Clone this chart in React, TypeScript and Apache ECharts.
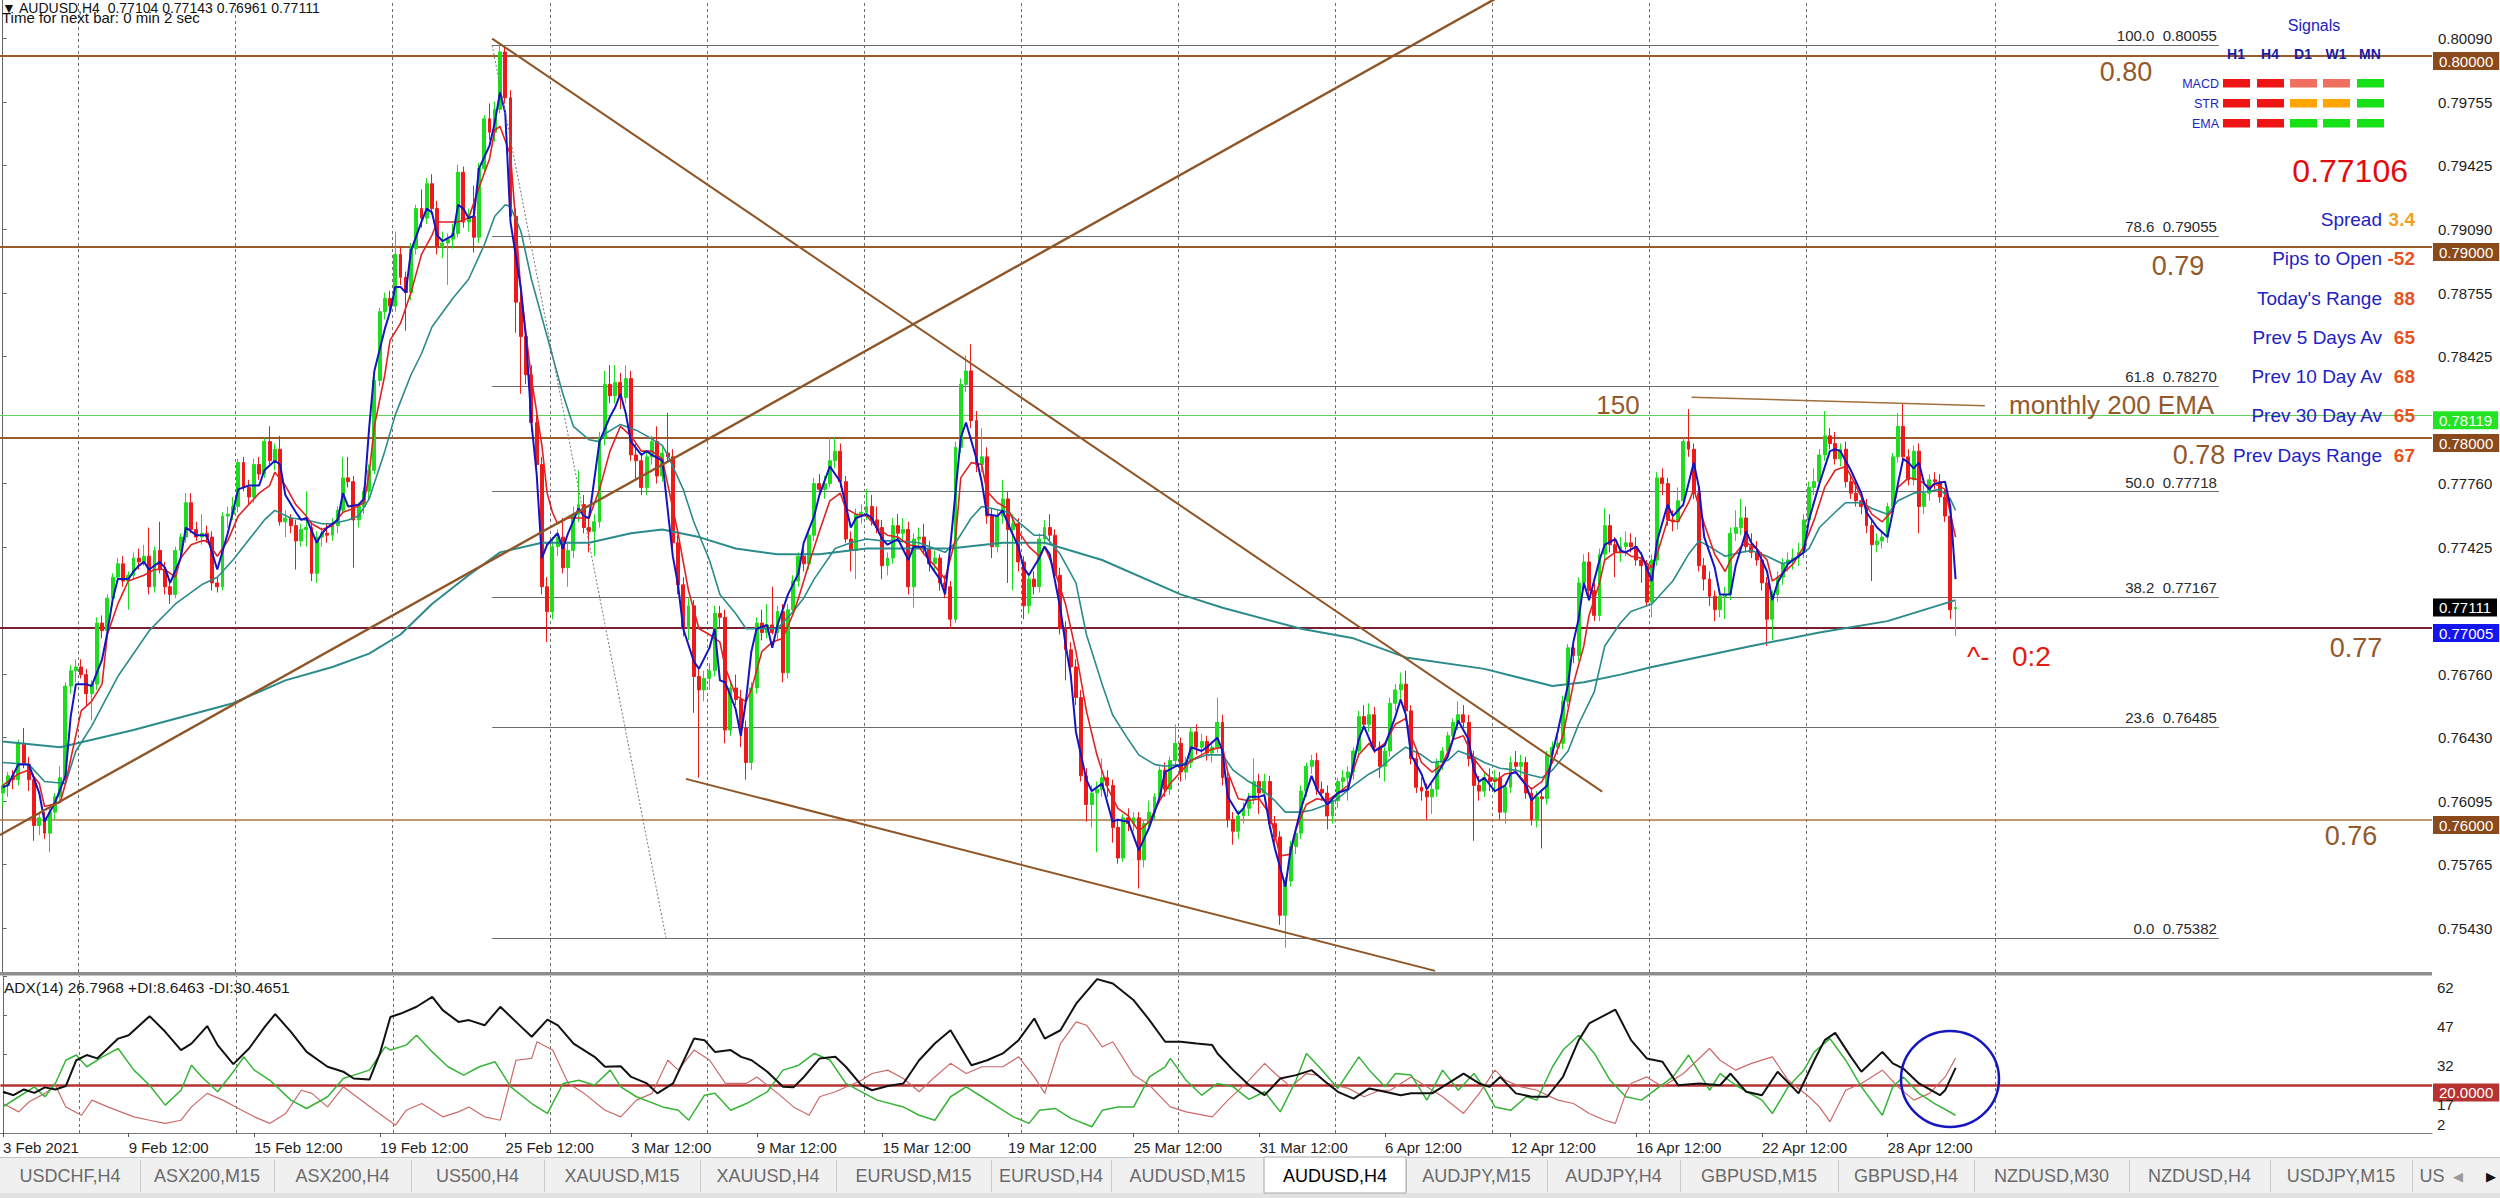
import React, { useEffect, useRef } from "react";
import * as echarts from "echarts";

const FONT = '"Liberation Sans", Arial, sans-serif';

// ---------------- DATA ----------------
// H4 candles, [open, high, low, close] in 1/10000 of a price unit (pips)
const BARS_FEB_A = [
  [7614,7620,7607,7618],[7618,7625,7612,7623],[7623,7626,7616,7621],[7621,7642,7618,7640],[7640,7648,7627,7629],
  [7629,7633,7615,7621],[7621,7624,7589,7597],[7597,7603,7592,7601],[7601,7604,7590,7593],[7593,7606,7583,7604],
  [7604,7614,7600,7612],[7612,7628,7609,7622],[7622,7672,7620,7670],[7670,7681,7666,7678],[7678,7684,7672,7680],
  [7680,7684,7674,7676],[7676,7679,7660,7666],[7666,7673,7652,7671],[7671,7706,7668,7703],[7703,7707,7695,7699],
  [7699,7718,7696,7716],[7716,7729,7712,7727],[7727,7737,7724,7734],[7734,7738,7722,7725],[7725,7730,7710,7728],
  [7728,7740,7726,7737],[7737,7742,7731,7735],[7735,7744,7733,7738],[7738,7753,7718,7722],[7722,7743,7719,7741],
  [7741,7756,7729,7731],[7731,7735,7718,7722],[7722,7725,7713,7718],[7718,7743,7716,7741],[7741,7750,7738,7748],
  [7748,7771,7745,7766],[7766,7771,7750,7752],[7752,7756,7746,7748],[7748,7760,7744,7750],[7750,7754,7745,7748],
  [7748,7751,7720,7724],[7724,7727,7719,7722],[7722,7761,7720,7759],[7759,7764,7753,7760],[7760,7769,7757,7764],
  [7764,7789,7761,7787],[7787,7790,7772,7774],[7774,7778,7765,7769],[7769,7789,7766,7786],[7786,7790,7778,7781],
  [7781,7800,7779,7798],[7798,7806,7786,7788],[7788,7797,7783,7794],[7794,7801,7754,7756],[7756,7762,7748,7758],
  [7758,7760,7750,7754],[7754,7757,7731,7746],[7746,7755,7743,7752],[7752,7772,7743,7753],[7753,7756,7725,7729],
];
const BARS_FEB_B = [
  [7729,7751,7724,7748],[7748,7753,7743,7750],[7750,7755,7745,7749],[7749,7758,7746,7754],[7754,7764,7750,7762],
  [7762,7790,7760,7779],[7779,7790,7774,7777],[7777,7780,7732,7757],[7757,7766,7753,7764],[7764,7774,7760,7772],
  [7772,7786,7768,7783],[7783,7832,7781,7830],[7830,7868,7827,7866],[7866,7876,7862,7873],[7873,7877,7866,7869],
  [7869,7908,7866,7896],[7896,7900,7880,7884],[7884,7887,7856,7876],[7876,7902,7872,7899],[7899,7922,7896,7920],
  [7920,7930,7910,7915],[7915,7936,7912,7933],[7933,7938,7917,7920],[7920,7924,7896,7900],[7900,7908,7894,7902],
  [7902,7907,7880,7904],[7904,7912,7899,7907],[7907,7943,7905,7939],[7939,7942,7910,7913],[7913,7920,7908,7916],
  [7916,7932,7897,7905],[7905,7944,7902,7941],[7941,7969,7938,7967],[7967,7975,7956,7960],[7960,7976,7955,7972],
  [7972,8006,7970,8002],[8002,8005,7975,7978],[7978,7982,7912,7916],[7916,7920,7855,7871],[7871,7876,7823,7853],
  [7853,7858,7828,7833],[7833,7838,7803,7808],[7808,7812,7780,7786],[7786,7790,7718,7722],[7722,7727,7693,7709],
  [7709,7748,7705,7743],[7743,7752,7738,7748],[7748,7758,7729,7732],[7732,7745,7722,7741],[7741,7764,7737,7760],
  [7760,7783,7756,7765],[7765,7770,7750,7753],[7753,7758,7740,7751],[7751,7760,7738,7756],[7756,7803,7753,7800],
  [7800,7835,7796,7828],[7828,7838,7818,7822],[7822,7838,7818,7829],[7829,7834,7815,7821],[7821,7838,7818,7831],
];
const BARS_MAR_A = [
  [7831,7835,7788,7791],[7791,7797,7778,7788],[7788,7792,7770,7774],[7774,7793,7770,7790],[7790,7801,7786,7798],
  [7798,7806,7776,7780],[7780,7795,7777,7792],[7792,7813,7787,7790],[7790,7794,7740,7745],[7745,7749,7718,7723],
  [7723,7727,7696,7700],[7700,7716,7694,7712],[7712,7715,7656,7675],[7675,7680,7622,7668],[7668,7678,7662,7674],
  [7674,7682,7668,7678],[7678,7712,7675,7708],[7708,7712,7700,7706],[7706,7710,7640,7647],[7647,7672,7644,7669],
  [7669,7676,7660,7663],[7663,7668,7638,7648],[7648,7652,7621,7630],[7630,7672,7626,7669],[7669,7706,7666,7703],
  [7703,7710,7694,7698],[7698,7713,7695,7702],[7702,7722,7697,7698],[7698,7712,7694,7709],[7709,7713,7672,7677],
  [7677,7713,7674,7710],[7710,7728,7707,7725],[7725,7740,7722,7738],[7738,7742,7730,7734],[7734,7751,7731,7749],
  [7749,7779,7746,7776],[7776,7781,7770,7773],[7773,7780,7768,7776],[7776,7800,7774,7788],[7788,7800,7784,7793],
  [7793,7797,7774,7777],[7777,7780,7745,7747],[7747,7751,7730,7741],[7741,7763,7726,7760],[7760,7765,7755,7761],
  [7761,7773,7757,7764],[7764,7770,7754,7757],[7757,7764,7750,7753],[7753,7757,7726,7733],[7733,7740,7728,7737],
  [7737,7758,7734,7754],[7754,7760,7746,7750],[7750,7758,7745,7752],[7752,7756,7718,7722],[7722,7750,7711,7747],
  [7747,7753,7742,7748],[7748,7755,7739,7742],[7742,7746,7730,7734],[7734,7741,7730,7737],[7737,7739,7720,7724],
];
const BARS_MAR_B = [
  [7724,7728,7716,7722],[7722,7725,7700,7705],[7705,7798,7703,7795],[7795,7831,7792,7828],[7828,7843,7824,7835],
  [7835,7849,7805,7809],[7809,7814,7782,7786],[7786,7805,7782,7790],[7790,7795,7755,7759],[7759,7763,7737,7743],
  [7743,7762,7740,7759],[7759,7778,7755,7768],[7768,7772,7724,7752],[7752,7760,7720,7755],[7755,7758,7730,7735],
  [7735,7738,7705,7712],[7712,7728,7708,7726],[7726,7730,7718,7722],[7722,7750,7719,7747],[7747,7757,7744,7753],
  [7753,7760,7745,7749],[7749,7752,7726,7728],[7728,7732,7697,7700],[7700,7704,7673,7689],[7689,7693,7677,7680],
  [7680,7684,7660,7664],[7664,7668,7620,7623],[7623,7627,7599,7608],[7608,7618,7596,7614],[7614,7620,7583,7616],
  [7616,7632,7612,7622],[7622,7626,7612,7618],[7618,7621,7588,7596],[7596,7600,7577,7580],[7580,7603,7578,7601],
  [7601,7606,7594,7598],[7598,7604,7594,7601],[7601,7604,7564,7579],[7579,7600,7575,7598],[7598,7610,7594,7604],
  [7604,7614,7600,7612],[7612,7628,7609,7626],[7626,7630,7612,7616],[7616,7633,7613,7631],[7631,7650,7628,7640],
  [7640,7643,7620,7625],[7625,7633,7621,7630],[7630,7648,7627,7646],[7646,7650,7634,7638],[7638,7645,7634,7641],
  [7641,7644,7631,7635],[7635,7641,7630,7638],[7638,7664,7635,7651],[7651,7655,7618,7622],[7622,7626,7596,7600],
  [7600,7604,7587,7594],[7594,7605,7590,7602],[7602,7609,7598,7606],[7606,7614,7602,7611],[7611,7632,7608,7620],
];
const BARS_APR_A = [
  [7620,7624,7603,7614],[7614,7624,7610,7620],[7620,7623,7595,7598],[7598,7602,7588,7591],[7591,7594,7545,7550],
  [7550,7570,7533,7568],[7568,7589,7565,7586],[7586,7596,7582,7593],[7593,7618,7590,7615],[7615,7630,7612,7628],
  [7628,7634,7624,7631],[7631,7635,7613,7616],[7616,7620,7610,7614],[7614,7618,7595,7602],[7602,7612,7598,7610],
  [7610,7622,7606,7620],[7620,7626,7615,7622],[7622,7628,7610,7625],[7625,7638,7621,7636],[7636,7657,7633,7654],
  [7654,7660,7647,7650],[7650,7661,7646,7655],[7655,7659,7635,7638],[7638,7641,7622,7628],[7628,7638,7620,7636],
  [7636,7664,7633,7661],[7661,7671,7657,7668],[7668,7677,7663,7671],[7671,7678,7652,7657],[7657,7660,7629,7632],
  [7632,7636,7614,7617],[7617,7622,7610,7615],[7615,7619,7600,7612],[7612,7619,7603,7616],[7616,7632,7612,7630],
  [7630,7638,7626,7636],[7636,7646,7632,7644],[7644,7653,7640,7651],[7651,7662,7647,7655],[7655,7660,7648,7651],
  [7651,7655,7628,7632],[7632,7636,7589,7618],[7618,7623,7610,7615],[7615,7625,7612,7622],[7622,7627,7615,7620],
  [7620,7626,7614,7622],[7622,7625,7600,7604],[7604,7620,7598,7617],[7617,7633,7614,7630],[7630,7636,7624,7628],
  [7628,7634,7622,7630],[7630,7633,7611,7614],[7614,7617,7597,7600],[7600,7615,7596,7612],[7612,7616,7585,7611],
  [7611,7636,7608,7634],[7634,7641,7630,7638],[7638,7644,7634,7640],[7640,7665,7637,7662],[7662,7692,7659,7690],
];
const BARS_APR_B = [
  [7690,7695,7682,7686],[7686,7727,7683,7724],[7724,7739,7720,7735],[7735,7740,7716,7720],[7720,7724,7704,7707],
  [7707,7742,7704,7739],[7739,7763,7736,7754],[7754,7760,7740,7744],[7744,7748,7727,7740],[7740,7748,7735,7743],
  [7743,7751,7738,7745],[7745,7750,7740,7743],[7743,7748,7733,7736],[7736,7740,7724,7733],[7733,7736,7712,7714],
  [7714,7739,7706,7736],[7736,7782,7733,7779],[7779,7784,7770,7776],[7776,7779,7754,7757],[7757,7762,7751,7756],
  [7756,7774,7752,7767],[7767,7800,7764,7798],[7798,7815,7790,7794],[7794,7797,7768,7771],[7771,7774,7730,7733],
  [7733,7737,7720,7726],[7726,7730,7712,7717],[7717,7720,7704,7710],[7710,7721,7706,7717],[7717,7722,7705,7718],
  [7718,7753,7715,7750],[7750,7762,7746,7753],[7753,7768,7749,7758],[7758,7764,7740,7743],[7743,7750,7737,7740],
  [7740,7746,7733,7736],[7736,7740,7720,7724],[7724,7727,7691,7705],[7705,7720,7694,7718],[7718,7730,7714,7727],
  [7727,7737,7723,7734],[7734,7740,7730,7736],[7736,7742,7731,7737],[7737,7745,7733,7740],[7740,7760,7737,7757],
  [7757,7777,7754,7774],[7774,7784,7770,7777],[7777,7794,7774,7791],[7791,7814,7788,7801],[7801,7805,7794,7797],
  [7797,7803,7786,7789],[7789,7797,7785,7794],[7794,7798,7774,7777],[7777,7781,7768,7771],[7771,7778,7764,7767],
  [7767,7771,7760,7764],[7764,7768,7750,7754],[7754,7758,7725,7744],[7744,7750,7740,7746],[7746,7751,7742,7748],
  [7748,7766,7745,7764],[7764,7792,7761,7790],[7790,7813,7787,7806],[7806,7818,7786,7790],[7790,7794,7775,7778],
  [7778,7796,7775,7793],[7793,7797,7750,7764],[7764,7775,7760,7771],[7771,7781,7767,7778],[7778,7782,7773,7777],
  [7777,7781,7766,7769],[7769,7773,7756,7759],[7759,7762,7705,7710],[7710.4,7714.3,7696.1,7711.1],
];

// Moving averages: [bar index, value in pips]
const MA_FAST = [
  [0,7617],[1,7618],[3,7629],[5,7629],[7,7614],[8,7599],[10,7609],[12,7623],[13,7654],[14,7671],[16,7671],[17,7670],[19,7684],[20,7698],[21,7715],[22,7726],[24,7726],[25,7730],[26,7733],[27,7735],[28,7731],[30,7735],[31,7732],[32,7724],[34,7737],[35,7753],[37,7749],[39,7749],[41,7731],[43,7750],[45,7773],[47,7775],[49,7775],[50,7783],[52,7788],[53,7786],[54,7770],[56,7761],[57,7757],[58,7758],[60,7745],[61,7750],[62,7753],[64,7757],[65,7771],[66,7764],[68,7765],[69,7768],[70,7805],[71,7835],[73,7857],[74,7866],[75,7879],[76,7879],[77,7876],[78,7898],[80,7913],[81,7920],[82,7918],[83,7906],[84,7903],[86,7906],[87,7922],[88,7920],[89,7915],[90,7916],[91,7941],[93,7953],[94,7965],[95,7981],[96,7970],[97,7913],[99,7878],[100,7851],[101,7808],[102,7781],[103,7737],[104,7744],[106,7750],[107,7742],[108,7750],[110,7763],[111,7759],[112,7758],[113,7778],[114,7798],[116,7811],[117,7816],[118,7823],[119,7813],[120,7798],[122,7791],[123,7793],[124,7791],[126,7788],[127,7763],[128,7738],[129,7723],[130,7700],[132,7683],[133,7679],[135,7690],[136,7700],[137,7673],[138,7672],[140,7658],[141,7644],[142,7663],[143,7688],[144,7700],[146,7702],[147,7690],[148,7702],[150,7718],[152,7729],[153,7745],[155,7759],[156,7770],[158,7785],[160,7777],[162,7753],[163,7758],[165,7760],[166,7758],[168,7747],[169,7744],[171,7747],[173,7736],[174,7743],[176,7743],[177,7734],[179,7726],[180,7718],[181,7743],[183,7800],[184,7808],[186,7789],[187,7777],[188,7760],[190,7759],[191,7762],[192,7755],[194,7743],[195,7732],[196,7728],[198,7737],[199,7743],[200,7739],[202,7711],[203,7692],[204,7676],[205,7646],[207,7621],[208,7615],[210,7619],[212,7599],[213,7600],[215,7599],[217,7584],[219,7596],[221,7612],[222,7625],[224,7628],[226,7629],[227,7638],[229,7636],[230,7638],[232,7643],[233,7636],[234,7612],[236,7603],[237,7606],[238,7612],[240,7612],[241,7613],[242,7597],[243,7585],[245,7565],[246,7584],[248,7606],[250,7623],[251,7616],[252,7612],[253,7608],[255,7614],[257,7616],[259,7642],[260,7649],[262,7636],[264,7639],[266,7654],[267,7663],[268,7655],[269,7634],[271,7624],[272,7616],[274,7624],[276,7633],[277,7642],[278,7652],[280,7642],[281,7626],[282,7620],[283,7622],[285,7615],[287,7618],[288,7624],[289,7625],[291,7618],[292,7610],[293,7613],[295,7618],[296,7635],[297,7646],[299,7671],[300,7693],[301,7705],[302,7724],[303,7715],[305,7736],[306,7744],[308,7747],[309,7741],[310,7740],[312,7743],[313,7739],[314,7732],[315,7725],[316,7746],[318,7765],[319,7759],[321,7765],[323,7787],[324,7774],[325,7748],[327,7732],[328,7718],[330,7718],[331,7733],[333,7751],[334,7745],[335,7742],[337,7730],[338,7715],[339,7724],[341,7734],[344,7740],[345,7757],[347,7776],[349,7793],[350,7794],[351,7793],[353,7783],[355,7771],[356,7761],[358,7753],[360,7748],[361,7761],[362,7776],[363,7789],[364,7787],[365,7784],[366,7787],[367,7776],[368,7773],[369,7776],[371,7777],[372,7764],[373,7726],
];
const MA_MEDIUM = [
  [0,7618],[1,7620],[3,7624],[5,7626],[7,7619],[8,7607],[11,7609],[12,7619],[15,7657],[17,7662],[19,7671],[20,7697],[22,7713],[24,7725],[27,7728],[29,7731],[31,7731],[33,7727],[34,7737],[36,7744],[38,7746],[39,7746],[41,7738],[43,7746],[45,7759],[47,7765],[49,7771],[51,7775],[52,7782],[54,7775],[56,7765],[58,7759],[59,7755],[61,7752],[63,7754],[65,7761],[67,7763],[69,7766],[70,7781],[71,7806],[73,7833],[74,7851],[76,7860],[78,7876],[80,7896],[82,7906],[83,7913],[85,7913],[87,7913],[89,7915],[91,7931],[93,7946],[94,7961],[95,7963],[97,7948],[98,7913],[99,7876],[101,7831],[103,7796],[104,7771],[105,7761],[106,7755],[108,7758],[110,7758],[112,7758],[114,7773],[116,7793],[118,7806],[120,7801],[122,7793],[124,7793],[126,7789],[127,7776],[129,7750],[131,7720],[133,7700],[135,7697],[137,7693],[138,7680],[140,7665],[142,7662],[143,7668],[145,7688],[147,7693],[149,7695],[151,7708],[152,7716],[154,7734],[156,7751],[158,7767],[160,7771],[161,7763],[163,7760],[165,7759],[167,7753],[169,7749],[171,7748],[173,7744],[175,7743],[176,7739],[178,7733],[180,7726],[182,7747],[183,7779],[185,7787],[187,7786],[188,7772],[190,7766],[192,7763],[194,7751],[196,7743],[198,7738],[199,7743],[201,7730],[203,7713],[205,7688],[207,7657],[209,7634],[211,7617],[213,7606],[215,7602],[217,7594],[219,7599],[221,7610],[223,7619],[225,7625],[227,7631],[229,7634],[231,7637],[233,7638],[234,7625],[236,7611],[238,7610],[240,7611],[242,7603],[244,7581],[246,7582],[247,7595],[249,7608],[251,7611],[253,7610],[255,7614],[257,7618],[259,7634],[261,7640],[262,7636],[264,7640],[266,7650],[268,7653],[269,7644],[271,7630],[273,7625],[275,7629],[277,7642],[279,7644],[281,7632],[283,7625],[285,7620],[287,7624],[289,7625],[290,7622],[292,7616],[294,7620],[296,7630],[298,7644],[300,7671],[302,7691],[303,7707],[305,7724],[306,7736],[308,7740],[310,7740],[311,7738],[313,7737],[315,7732],[316,7739],[318,7757],[320,7756],[322,7766],[323,7773],[325,7755],[327,7739],[329,7730],[330,7736],[332,7743],[333,7745],[335,7742],[337,7736],[338,7725],[340,7729],[342,7734],[344,7743],[346,7757],[348,7774],[350,7783],[352,7785],[353,7780],[355,7769],[357,7760],[359,7756],[361,7762],[362,7774],[364,7779],[366,7778],[368,7774],[369,7776],[371,7773],[373,7748],
];
const MA_SLOW = [
  [0,7630],[5,7629],[8,7620],[12,7619],[14,7636],[17,7649],[22,7675],[28,7699],[33,7713],[38,7723],[41,7727],[44,7736],[50,7757],[52,7762],[55,7758],[58,7757],[61,7755],[63,7755],[66,7757],[68,7759],[70,7768],[73,7793],[75,7812],[78,7833],[80,7844],[82,7858],[86,7873],[89,7883],[92,7901],[94,7916],[96,7922],[97,7921],[99,7908],[101,7883],[104,7853],[107,7823],[109,7806],[112,7799],[114,7798],[115,7802],[118,7807],[121,7804],[123,7801],[126,7796],[127,7791],[130,7773],[132,7756],[135,7736],[137,7718],[140,7708],[142,7700],[145,7700],[148,7700],[151,7709],[153,7716],[155,7726],[159,7742],[162,7745],[165,7747],[168,7746],[171,7746],[175,7745],[178,7742],[180,7740],[182,7745],[185,7758],[187,7764],[189,7763],[192,7761],[194,7756],[197,7749],[199,7749],[202,7739],[205,7724],[207,7697],[210,7671],[212,7655],[215,7642],[217,7634],[220,7629],[222,7628],[225,7629],[227,7631],[230,7634],[233,7634],[235,7626],[238,7620],[240,7617],[243,7610],[245,7604],[248,7604],[250,7605],[253,7608],[255,7611],[258,7618],[261,7624],[263,7627],[266,7634],[268,7638],[271,7634],[273,7630],[276,7631],[278,7636],[281,7633],[283,7630],[286,7627],[289,7626],[291,7624],[294,7622],[296,7626],[299,7636],[301,7650],[304,7667],[306,7691],[309,7703],[311,7709],[315,7713],[319,7725],[322,7739],[324,7746],[326,7743],[329,7738],[332,7740],[334,7741],[337,7738],[340,7734],[342,7736],[345,7742],[347,7753],[350,7761],[352,7766],[355,7766],[357,7763],[360,7760],[362,7767],[365,7771],[368,7772],[370,7773],[372,7768],[373,7762],
];
const MA_200 = [
  [0,7641],[11,7638],[25,7647],[44,7661],[54,7673],[63,7680],[70,7687],[76,7697],[82,7713],[89,7728],[95,7740],[103,7745],[112,7745],[120,7750],[126,7752],[133,7748],[140,7742],[148,7739],[156,7739],[165,7742],[181,7742],[191,7745],[199,7745],[210,7736],[225,7718],[233,7711],[248,7700],[258,7695],[268,7685],[283,7679],[296,7670],[302,7672],[309,7676],[315,7680],[334,7691],[347,7698],[360,7704],[373,7715],
];

// ADX(14) panel: [bar index, value]
const ADX_LINE = [
  [0,17.6],[2,16.3],[4,18.5],[6,17.2],[8,19.3],[10,18.5],[12,19.8],[14,29.7],[16,31.7],[18,30.4],[22,38.0],[24,39.3],[28,46.6],[31,40.6],[34,33.6],[36,36.1],[39,42.8],[41,35.5],[44,28.2],[47,34.2],[50,42.5],[52,47.4],[55,40.6],[58,32.9],[62,27.2],[65,25.3],[67,22.7],[70,22.3],[72,32.3],[74,46.3],[76,47.6],[79,50.2],[82,54.0],[84,48.9],[87,44.4],[89,45.1],[92,43.1],[95,50.2],[99,42.5],[101,38.7],[104,45.3],[106,43.1],[109,36.1],[113,31.0],[115,27.2],[118,27.4],[120,23.3],[123,20.8],[125,17.0],[128,20.8],[132,38.0],[134,37.4],[136,32.9],[139,33.6],[141,31.0],[143,29.7],[146,25.3],[149,19.5],[151,19.3],[153,23.3],[156,30.4],[159,31.0],[161,27.2],[164,20.1],[166,18.2],[169,19.8],[172,20.8],[175,29.7],[178,36.1],[181,41.2],[185,27.8],[188,29.7],[191,32.3],[194,37.4],[197,45.7],[199,38.0],[202,41.2],[205,51.4],[209,60.8],[212,59.1],[216,52.7],[219,45.1],[222,36.8],[225,36.8],[228,36.1],[231,35.5],[232,32.3],[235,25.9],[238,20.2],[241,16.3],[244,22.7],[247,24.0],[250,25.9],[253,20.8],[255,17.6],[258,15.0],[261,18.9],[264,17.6],[267,16.3],[269,17.0],[273,17.0],[279,24.6],[282,20.8],[284,19.5],[286,23.3],[289,17.0],[292,15.7],[295,15.7],[298,23.3],[301,37.4],[303,43.8],[306,47.0],[308,49.1],[311,37.4],[314,30.4],[317,29.1],[320,20.1],[324,20.8],[328,20.1],[330,24.6],[333,17.6],[336,16.3],[339,25.3],[343,17.0],[346,29.7],[348,37.4],[350,40.2],[353,31.0],[355,25.3],[359,32.9],[361,28.5],[363,26.5],[366,20.8],[370,16.3],[371,18.2],[373,26.8],
];
const PLUS_DI = [
  [0,11.8],[3,15.7],[6,19.5],[8,15.7],[10,20.8],[12,29.7],[14,31.7],[16,27.2],[19,31.0],[22,34.2],[25,25.9],[28,20.1],[31,12.5],[34,18.2],[36,27.8],[38,23.3],[41,17.6],[44,25.3],[46,31.0],[48,25.9],[51,22.0],[55,14.4],[58,11.2],[62,15.7],[65,22.7],[67,24.0],[70,25.9],[73,34.8],[74,33.6],[77,35.5],[79,39.3],[82,32.9],[85,27.2],[88,24.0],[91,27.2],[94,29.1],[97,19.5],[101,13.1],[104,9.3],[107,20.8],[110,22.0],[113,20.1],[116,25.9],[118,19.5],[121,15.7],[126,11.8],[129,10.5],[131,6.7],[134,16.3],[136,17.0],[139,10.5],[142,13.1],[146,17.6],[149,25.9],[152,27.8],[155,32.3],[158,29.7],[161,20.8],[164,17.6],[167,14.4],[172,11.8],[175,8.6],[178,6.7],[181,15.7],[184,19.5],[187,15.7],[190,11.8],[193,8.0],[196,5.5],[198,10.5],[201,11.2],[204,7.4],[208,4.2],[210,10.5],[213,11.8],[216,11.8],[219,23.3],[222,27.2],[223,30.4],[226,22.0],[229,16.3],[232,20.8],[235,19.5],[238,14.7],[241,17.6],[244,9.9],[247,22.0],[249,32.3],[252,25.9],[255,18.9],[259,31.0],[261,25.9],[264,19.5],[266,24.6],[269,24.0],[272,14.4],[275,25.9],[278,18.2],[281,24.6],[283,18.9],[285,11.8],[288,10.5],[291,15.7],[293,14.4],[296,27.2],[298,33.6],[301,39.3],[304,32.3],[307,22.0],[310,15.7],[313,14.4],[316,18.9],[319,23.3],[322,31.7],[326,18.2],[328,24.6],[331,20.1],[336,14.4],[338,9.3],[341,19.5],[344,25.9],[346,32.9],[349,38.0],[352,29.7],[355,19.5],[359,8.6],[361,19.5],[363,23.3],[366,17.0],[369,13.1],[373,8.6],
];
const MINUS_DI = [
  [0,13.1],[3,9.9],[5,13.8],[8,17.0],[10,20.1],[12,11.8],[15,8.6],[17,14.4],[20,11.8],[25,8.0],[28,6.7],[31,5.5],[34,6.7],[36,11.8],[39,17.0],[42,14.4],[45,11.2],[48,8.0],[51,5.5],[54,9.3],[57,18.2],[59,17.0],[62,11.8],[65,19.5],[68,15.0],[71,10.5],[75,4.8],[77,10.5],[80,13.1],[84,8.0],[87,9.9],[89,11.8],[92,8.0],[95,6.7],[98,29.7],[101,30.4],[102,36.8],[105,33.6],[108,20.8],[111,17.0],[115,10.5],[118,8.0],[121,14.4],[124,17.0],[127,29.7],[129,25.9],[132,33.6],[135,29.7],[138,20.8],[142,20.8],[144,23.3],[148,17.0],[151,11.8],[154,8.6],[156,15.7],[159,17.6],[164,22.0],[166,24.6],[169,25.9],[172,22.7],[175,17.6],[178,23.3],[181,28.5],[184,24.6],[187,27.2],[191,27.2],[194,31.0],[197,23.3],[199,17.0],[202,36.1],[205,44.4],[207,43.1],[210,34.8],[212,36.8],[216,24.0],[219,20.1],[223,11.8],[226,9.9],[231,8.0],[234,14.4],[238,22.0],[241,28.5],[243,24.6],[246,19.5],[249,24.6],[251,24.0],[253,20.8],[257,18.9],[260,15.7],[263,18.2],[265,18.2],[269,23.3],[272,19.5],[275,15.7],[279,9.3],[282,17.0],[285,25.9],[287,22.0],[290,19.5],[293,18.2],[297,14.4],[300,13.1],[303,9.3],[306,6.7],[308,5.5],[310,17.0],[311,20.8],[314,23.3],[317,19.5],[321,24.6],[326,34.2],[328,29.7],[331,25.9],[334,28.5],[338,31.0],[341,22.0],[345,15.7],[347,11.8],[349,6.1],[352,18.2],[355,20.8],[359,25.9],[362,19.5],[365,14.4],[368,17.0],[371,23.3],[373,30.5],
];

// Axis ticks & labels
const TIME_TICKS = [0, 24, 48, 72, 96, 120, 144, 168, 192, 216, 240, 264, 288, 312, 336, 360];
const TIME_LABELS = ["3 Feb 2021", "9 Feb 12:00", "15 Feb 12:00", "19 Feb 12:00", "25 Feb 12:00", "3 Mar 12:00", "9 Mar 12:00", "15 Mar 12:00", "19 Mar 12:00", "25 Mar 12:00", "31 Mar 12:00", "6 Apr 12:00", "12 Apr 12:00", "16 Apr 12:00", "22 Apr 12:00", "28 Apr 12:00"];
const PRICE_TICKS = [0.8009, 0.79755, 0.79425, 0.7909, 0.78755, 0.78425, 0.7776, 0.77425, 0.7676, 0.7643, 0.76095, 0.75765, 0.7543];
const ADX_TICKS = [62, 47, 32, 17];
const WEEK_SEPARATORS = [14.5, 44.5, 74.5, 104.5, 134.5, 164.5, 194.5, 224.5, 254.5, 284.5, 314.5, 344.5, 380.5];

// Horizontal price levels
const ROUND_LEVELS = [0.8, 0.79, 0.78, 0.76];
const EMA_MONTHLY_LEVEL = 0.78119;
const SUPPORT_LEVEL = 0.77005;
const BID_PRICE = 0.77111;
const ADX_THRESHOLD = 20;

// Fibonacci retracement: [percent, price]
const FIB_LEVELS: [string, number][] = [["100.0", 0.80055], ["78.6", 0.79055], ["61.8", 0.7827], ["50.0", 0.77718], ["38.2", 0.77167], ["23.6", 0.76485], ["0.0", 0.75382]];
const FIB_START_BAR = 93.5;
const FIB_END_BAR = 423.3;

// Trend lines: [bar, price] endpoints
const TREND_UP = [[-0.5, 0.7592], [285.2, 0.803]];
const TREND_DOWN = [[93.5, 0.8009], [305.5, 0.76147]];
const TREND_LOWER = [[130.5, 0.76214], [273.6, 0.75209]];
const TREND_MONTHLY_EMA = [[322.6, 0.78212], [378.6, 0.78168]];
const FIB_DIAGONAL = [[93.5, 0.80055], [126.7, 0.75382]];

// Signals panel
const SIGNAL_COLS = ["H1", "H4", "D1", "W1", "MN"];
const SIGNAL_ROWS = ["MACD", "STR", "EMA"];
const SIGNAL_STATES = [
  ["down", "down", "weak", "weak", "up"],
  ["down", "down", "flat", "flat", "up"],
  ["down", "down", "up", "up", "up"],
];
const STAT_LABELS = ["Spread", "Pips to Open", "Today's Range", "Prev 5 Days Av", "Prev 10 Day Av", "Prev 30 Day Av", "Prev Days Range"];
const STAT_VALUES = ["3.4", "-52", "88", "65", "68", "65", "67"];
const TABS = ["USDCHF,H4", "ASX200,M15", "ASX200,H4", "US500,H4", "XAUUSD,M15", "XAUUSD,H4", "EURUSD,M15", "EURUSD,H4", "AUDUSD,M15", "AUDUSD,H4", "AUDJPY,M15", "AUDJPY,H4", "GBPUSD,M15", "GBPUSD,H4", "NZDUSD,M30", "NZDUSD,H4", "USDJPY,M15", "US"];

// ---------------- STYLE / LAYOUT ----------------
const BULL = "#1edc1e";
const BEAR = "#ee1a1a";
const BROWN = "#9a5a2c";
const BROWN_TEXT = "#93592b";
const BLUE_TEXT = "#2222c4";
const SIGNAL_COLORS: Record<string, string> = { down: "#ee1414", weak: "#f07060", flat: "#ffa500", up: "#16e016" };

const X_MIN = -0.5, X_MAX = 464;
const Y_MIN = 0.75203, Y_MAX = 0.80292;
const MAIN_H = 972;
const ADX_MIN = 1.8, ADX_MAX = 62, ADX_H = 157;
// MT4 draws the price boxes a few pixels below their line
const MAIN_BOX_SHIFT = (5.3 * (Y_MAX - Y_MIN)) / MAIN_H;
const ADX_BOX_SHIFT = (7 * (ADX_MAX - ADX_MIN)) / ADX_H;

const P = (v: number) => v / 10000;
const toPrice = (arr: number[][]) => arr.map(([i, v]) => [i, P(v)]);

const T = (x: number, y: number, text: string, size: number, fill: string, align = "left", weight = "normal", family = FONT, z = 100) => ({
  type: "text",
  x,
  y,
  silent: true,
  z,
  style: { text, fill, fontSize: size, fontFamily: family, fontWeight: weight, align, verticalAlign: "middle", textAlign: align, textVerticalAlign: "middle" },
});
const R = (x: number, y: number, w: number, h: number, fill: string, stroke?: string) => ({
  type: "rect",
  silent: true,
  z: 99,
  shape: { x, y, width: w, height: h },
  style: { fill, stroke: stroke || null, lineWidth: stroke ? 1 : 0 },
});
const L = (x1: number, y1: number, x2: number, y2: number, color: string, w = 1) => ({
  type: "line",
  silent: true,
  z: 99,
  shape: { x1, y1, x2, y2 },
  style: { stroke: color, lineWidth: w },
});

function buildGraphics() {
  const g: any[] = [];
  g.push(R(0, 972, 2432, 3.5, "#8e8e8e"));
  g.push(T(2, 8, "\u25BC AUDUSD,H4  0.77104 0.77143 0.76961 0.77111", 14, "#111"));
  g.push(T(2, 17, "Time for next bar: 0 min 2 sec", 15, "#111"));
  g.push(T(4, 987, "ADX(14) 26.7968 +DI:8.6463 -DI:30.4651", 15.5, "#1a1a1a"));
  g.push(T(2437, 1124, "2", 15, "#1e1e1e"));

  g.push(T(2126, 72, "0.80", 27, BROWN_TEXT, "center"));
  g.push(T(2178, 266, "0.79", 27, BROWN_TEXT, "center"));
  g.push(T(2199, 455, "0.78", 27, BROWN_TEXT, "center"));
  g.push(T(2356, 648, "0.77", 27, BROWN_TEXT, "center"));
  g.push(T(2351, 836, "0.76", 27, BROWN_TEXT, "center"));
  g.push(T(1618, 405, "150", 26, BROWN_TEXT, "center"));
  g.push(T(2009, 405, "monthly 200 EMA", 26, BROWN_TEXT, "left"));
  g.push(T(1967, 656, "^-", 28, "#e41a12", "left"));
  g.push(T(2012, 656, "0:2", 28, "#e41a12", "left"));

  g.push(T(2314, 25, "Signals", 16, BLUE_TEXT, "center"));
  const colX = [2236, 2270, 2303, 2336, 2370];
  SIGNAL_COLS.forEach((c, i) => g.push(T(colX[i], 54, c, 14, "#1a1aa8", "center", "bold")));
  const rowY = [83, 103, 123];
  SIGNAL_ROWS.forEach((r, j) => {
    g.push(T(2219, rowY[j] + 1, r, 12.5, BLUE_TEXT, "right"));
    SIGNAL_STATES[j].forEach((s, i) => g.push(R(colX[i] - 13, rowY[j] - 4, 27, 8.5, SIGNAL_COLORS[s])));
  });
  g.push(T(2408, 171, "0.77106", 32, "#e30c0c", "right"));
  const statY = [219, 258, 298, 337, 376, 415, 455];
  STAT_LABELS.forEach((s, i) => {
    g.push(T(2382, statY[i], s, 19, BLUE_TEXT, "right"));
    g.push(T(2415, statY[i], STAT_VALUES[i], 19, i === 0 ? "#f2a028" : "#e8521e", "right", "bold"));
  });

  g.push({
    type: "ellipse",
    silent: true,
    z: 100,
    shape: { cx: 1950, cy: 1079, rx: 49, ry: 48 },
    style: { fill: "none", stroke: "#1616c0", lineWidth: 2.5 },
  });

  const edges = [0, 140, 274, 411, 544, 700, 836, 991, 1111, 1264, 1406, 1547, 1680, 1838, 1974, 2129, 2270, 2412, 2452];
  g.push(R(0, 1157, 2500, 41, "#f0f0f0"));
  g.push(R(0, 1193, 2500, 5, "#e2e2e2"));
  g.push(L(0, 1157.5, 2500, 1157.5, "#c4c4c4"));
  edges.slice(1, -1).forEach((x) => g.push(L(x + 0.5, 1160, x + 0.5, 1192, "#c8c8c8")));
  g.push(R(1264, 1157, 142, 36, "#ffffff", "#a8a8a8"));
  TABS.forEach((t, i) => {
    const active = i === 9;
    g.push(T((edges[i] + edges[i + 1]) / 2, 1176, t, 18, active ? "#000" : "#6a6a6a", "center"));
  });
  g.push(T(2458, 1176, "\u25C0", 13, "#9a9a9a", "center", "normal", '"DejaVu Sans"'));
  g.push(T(2491, 1176, "\u25B6", 13, "#111", "center", "normal", '"DejaVu Sans"'));
  return g;
}

function buildOption() {
  const bars = [...BARS_FEB_A, ...BARS_FEB_B, ...BARS_MAR_A, ...BARS_MAR_B, ...BARS_APR_A, ...BARS_APR_B];
  const candles = bars.map((b, i) => [i, P(b[0]), P(b[3]), P(b[2]), P(b[1])]);

  const boxLabel = (text: string, bg: string) => ({
    show: true,
    position: "end",
    formatter: text,
    color: "#ffffff",
    backgroundColor: bg,
    padding: [2, 6, 1, 6],
    fontSize: 15,
    fontFamily: FONT,
    distance: 1,
    opacity: 1,
  });
  // transparent carrier line for a price box (opacity must stay 1, labels inherit it)
  const carrier = { color: "rgba(0,0,0,0)", width: 1, type: "solid", opacity: 1 };
  const line = (y: number, color: string, width: number) => ({ yAxis: y, lineStyle: { color, width, type: "solid" }, label: { show: false } });
  const box = (y: number, text: string, bg: string) => ({ yAxis: y, lineStyle: carrier, label: boxLabel(text, bg) });

  const weekLines = WEEK_SEPARATORS.map((x) => ({
    xAxis: x,
    lineStyle: { color: "#6e6e6e", width: 1, type: [3, 3] },
    label: { show: false },
  }));

  const levelLines: any[] = [];
  ROUND_LEVELS.forEach((p) => {
    levelLines.push(line(p, p === 0.76 ? "#b27040" : BROWN, p === 0.76 ? 1.5 : 2));
    levelLines.push(box(p - MAIN_BOX_SHIFT, p.toFixed(5), "#8a4a1c"));
  });
  levelLines.push(line(EMA_MONTHLY_LEVEL, "#5fd25f", 1));
  levelLines.push(box(EMA_MONTHLY_LEVEL - MAIN_BOX_SHIFT, EMA_MONTHLY_LEVEL.toFixed(5), "#22e422"));
  levelLines.push(line(SUPPORT_LEVEL, "#7a1f30", 2));
  levelLines.push(box(SUPPORT_LEVEL - MAIN_BOX_SHIFT, SUPPORT_LEVEL.toFixed(5), "#1414ee"));
  levelLines.push(box(BID_PRICE, BID_PRICE.toFixed(5), "#000000"));

  const fibLines = FIB_LEVELS.map(([pct, p]) => [
    {
      coord: [FIB_START_BAR, p],
      lineStyle: { color: "#6a6a6a", width: 1, type: "solid" },
      label: {
        show: true,
        position: "insideEndTop",
        formatter: `${pct}  ${p.toFixed(5)}`,
        color: "#2a2a2a",
        fontSize: 15,
        fontFamily: FONT,
        distance: 2,
      },
    },
    { coord: [FIB_END_BAR, p] },
  ]);

  const lineSeries = (name: string, data: any[], color: string, width: number, z: number, extra: any = {}) => ({
    type: "line",
    name,
    data,
    xAxisIndex: 0,
    yAxisIndex: 0,
    showSymbol: false,
    symbol: "none",
    silent: true,
    z,
    lineStyle: { color, width },
    itemStyle: { color },
    ...extra,
  });

  const adxSeries = (name: string, data: number[][], color: string, width: number, z: number, extra: any = {}) => ({
    type: "line",
    name,
    data,
    xAxisIndex: 1,
    yAxisIndex: 1,
    showSymbol: false,
    symbol: "none",
    silent: true,
    z,
    lineStyle: { color, width },
    itemStyle: { color },
    ...extra,
  });

  const series: any[] = [
    {
      type: "line",
      name: "grid",
      data: [[X_MIN, 0.78]],
      xAxisIndex: 0,
      yAxisIndex: 0,
      showSymbol: false,
      symbol: "none",
      silent: true,
      lineStyle: { opacity: 0 },
      z: 1,
      markLine: { silent: true, symbol: ["none", "none"], precision: 6, z: 1, animation: false, data: weekLines },
    },
    {
      type: "line",
      name: "levels",
      data: [[X_MIN, 0.78]],
      xAxisIndex: 0,
      yAxisIndex: 0,
      showSymbol: false,
      symbol: "none",
      silent: true,
      clip: false,
      lineStyle: { opacity: 0 },
      z: 2,
      markLine: { silent: true, symbol: ["none", "none"], precision: 6, z: 2, animation: false, data: [...fibLines, ...levelLines] },
    },
    {
      type: "candlestick",
      name: "AUDUSD,H4",
      data: candles,
      xAxisIndex: 0,
      yAxisIndex: 0,
      barWidth: 3.4,
      silent: true,
      z: 3,
      itemStyle: { color: BULL, color0: BEAR, borderColor: BULL, borderColor0: BEAR, borderWidth: 1 },
    },
    lineSeries("MA 200", toPrice(MA_200), "#2b8b8b", 2, 4),
    lineSeries("MA slow", toPrice(MA_SLOW), "#2b8b8b", 1.6, 4),
    lineSeries("MA medium", toPrice(MA_MEDIUM), "#e02222", 1.6, 5),
    lineSeries("MA fast", toPrice(MA_FAST), "#1414c4", 2, 6),
    lineSeries("Trend up", TREND_UP, "#8f5526", 2.4, 7),
    lineSeries("Trend down", TREND_DOWN, "#8f5526", 2, 7),
    lineSeries("Trend lower", TREND_LOWER, "#8f5526", 2, 7),
    lineSeries("Monthly 200 EMA", TREND_MONTHLY_EMA, "#a0703c", 1.5, 7),
    lineSeries("Fib diagonal", FIB_DIAGONAL, "#777777", 1, 7, { lineStyle: { color: "#777777", width: 1, type: [2, 2] } }),
    adxSeries("-DI", MINUS_DI, "#cc6a6a", 1.2, 3),
    adxSeries("+DI", PLUS_DI, "#36b436", 1.5, 4),
    adxSeries("ADX", ADX_LINE, "#111111", 2, 5, {
      markLine: {
        silent: true,
        symbol: ["none", "none"],
        precision: 6,
        z: 1,
        animation: false,
        data: [
          ...WEEK_SEPARATORS.map((x) => ({ xAxis: x, lineStyle: { color: "#6e6e6e", width: 1, type: [3, 3] }, label: { show: false } })),
          { yAxis: ADX_THRESHOLD, lineStyle: { color: "#b83232", width: 2.5, type: "solid" }, label: { show: false } },
        ],
      },
    }),
    adxSeries("ADX level box", [[X_MIN, ADX_THRESHOLD]], "rgba(0,0,0,0)", 0, 2, {
      markLine: {
        silent: true,
        symbol: ["none", "none"],
        precision: 6,
        z: 2,
        animation: false,
        data: [{ yAxis: ADX_THRESHOLD - ADX_BOX_SHIFT, lineStyle: carrier, label: boxLabel(ADX_THRESHOLD.toFixed(4), "#b83232") }],
      },
    }),
  ];

  return {
    animation: false,
    backgroundColor: "#ffffff",
    textStyle: { fontFamily: FONT },
    grid: [
      { left: 0, top: 0, width: 2432, height: MAIN_H },
      { left: 0, top: 976, width: 2432, height: ADX_H },
    ],
    xAxis: [
      { type: "value", gridIndex: 0, min: X_MIN, max: X_MAX, show: false },
      {
        type: "value",
        gridIndex: 1,
        min: X_MIN,
        max: X_MAX,
        axisLine: { show: true, lineStyle: { color: "#777" } },
        axisTick: { show: true, customValues: TIME_TICKS, length: 4, lineStyle: { color: "#555" } },
        axisLabel: {
          customValues: TIME_TICKS,
          interval: 0,
          hideOverlap: false,
          formatter: (v: number) => {
            const k = TIME_TICKS.indexOf(Math.round(v));
            return k >= 0 ? TIME_LABELS[k] : "";
          },
          align: "left",
          color: "#1e1e1e",
          fontSize: 15,
          fontFamily: FONT,
          margin: 7,
        },
        splitLine: { show: false },
      },
    ],
    yAxis: [
      {
        type: "value",
        gridIndex: 0,
        position: "right",
        min: Y_MIN,
        max: Y_MAX,
        axisLine: { show: true, lineStyle: { color: "#666" } },
        axisTick: { show: true, customValues: PRICE_TICKS, length: 4, lineStyle: { color: "#666" } },
        axisLabel: {
          customValues: PRICE_TICKS,
          interval: 0,
          hideOverlap: false,
          formatter: (v: number) => v.toFixed(5),
          color: "#1e1e1e",
          fontSize: 15,
          fontFamily: FONT,
          margin: 6,
        },
        splitLine: { show: false },
      },
      {
        type: "value",
        gridIndex: 1,
        position: "right",
        min: ADX_MIN,
        max: ADX_MAX,
        axisLine: { show: true, lineStyle: { color: "#666" } },
        axisTick: { show: true, customValues: ADX_TICKS, length: 4, lineStyle: { color: "#666" } },
        // scale labels are laid out below from the axis' own pixel mapping (MT4 prints them under the tick)
        axisLabel: { show: false },
        splitLine: { show: false },
      },
    ],
    series,
    graphic: buildGraphics(),
  };
}

export default function App() {
  const ref = useRef<HTMLDivElement>(null);
  useEffect(() => {
    if (!ref.current) return;
    const chart = echarts.init(ref.current, undefined, { renderer: "svg" });
    chart.setOption(buildOption() as any);
    // ADX scale labels as one text block whose line pitch comes from the y axis' own scale
    const yTop = chart.convertToPixel({ yAxisIndex: 1 } as any, ADX_TICKS[0]) as number;
    const yNext = chart.convertToPixel({ yAxisIndex: 1 } as any, ADX_TICKS[1]) as number;
    const pitch = yNext - yTop;
    const block = {
      type: "text",
      x: 2437,
      y: yTop + 11.5 - pitch / 2,
      silent: true,
      z: 300,
      style: {
        text: ADX_TICKS.join("\n"),
        fill: "#1e1e1e",
        fontSize: 15,
        fontFamily: FONT,
        lineHeight: pitch,
        align: "left",
        verticalAlign: "top",
        textAlign: "left",
        textVerticalAlign: "top",
      },
    };
    chart.setOption({ graphic: [...buildGraphics(), block] } as any);
    return () => chart.dispose();
  }, []);
  return (
    <div
      ref={ref}
      style={{ position: "fixed", left: 0, top: 0, width: 2500, height: 1198, background: "#ffffff" }}
    />
  );
}
